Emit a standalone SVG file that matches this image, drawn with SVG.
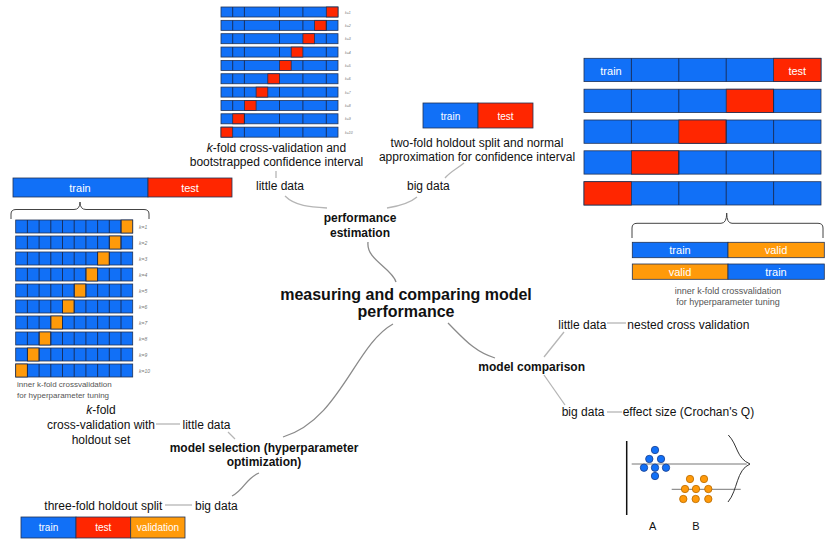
<svg xmlns="http://www.w3.org/2000/svg" width="830" height="548" viewBox="0 0 830 548">
<style>
text{font-family:"Liberation Sans",Arial,sans-serif;fill:#111}
.t12{font-size:12px}
.b12{font-size:12px;font-weight:bold}
.b16{font-size:16px;font-weight:bold}
.w{fill:#fff;text-anchor:middle}
.s11{font-size:11px}
.s10{font-size:10px}
.c{text-anchor:middle}
.note{fill:#555;text-anchor:start}
.kl{fill:#777;font-style:italic}
.bl{fill:#1170f7}
.rd{fill:#ff2600}
.or{fill:#ff9a0a}
.cell{stroke:#223355;stroke-width:0.8}
.div{stroke:#1a2a50;stroke-width:0.9}
.con{fill:none;stroke:#8a8a8a;stroke-width:1.3}
.con2{fill:none;stroke:#b5b5b5;stroke-width:1.3}
.brace{fill:none;stroke:#444;stroke-width:1}
</style>

<g id="connectors">
<path class="con" d="M368,242 C366,260 392,268 396,282"/>
<path class="con" d="M393,324 C355,345 340,420 283,437"/>
<path class="con" d="M448,323 C465,340 475,352 495,358"/>
<path class="con2" d="M285,196 C295,206 310,207 327,208"/>
<path class="con2" d="M387,208 C400,206 410,203 417,197"/>
<path class="con2" d="M276,171 L276,178"/>
<path class="con2" d="M464,163 C458,168 450,172 445,178"/>
<path class="con2" d="M156,424 L180,424"/>
<path class="con2" d="M228,432 L235,439"/>
<path class="con2" d="M165,505 L192,505"/>
<path class="con" d="M232,496 C244,490 246,478 259,473"/>
<path class="con2" d="M544,357 L564,332"/>
<path class="con2" d="M607,323 L626,323"/>
<path class="con2" d="M544,375 L565,405"/>
<path class="con2" d="M607,412 L622,412"/>
</g>

<g id="center">
<text class="b16 c" x="406" y="300">measuring and comparing model</text>
<text class="b16 c" x="406" y="317">performance</text>
</g>

<g id="performance-estimation">
<text class="b12 c" x="360" y="222">performance</text>
<text class="b12 c" x="360" y="237">estimation</text>
</g>

<g id="pe-little">
<text class="t12" x="256" y="190">little data</text>
<text class="t12 c" x="276.5" y="152"><tspan font-style="italic">k</tspan>-fold cross-validation and</text>
<text class="t12 c" x="276.5" y="166">bootstrapped confidence interval</text>
</g>

<g id="pe-big">
<text class="t12" x="407" y="190">big data</text>
<text class="t12 c" x="477" y="146.5">two-fold holdout split and normal</text>
<text class="t12 c" x="477" y="160.5">approximation for confidence interval</text>
</g>

<g id="kfold-grid-top">
<rect class="bl cell" x="221" y="7" width="117" height="10"/>
<rect class="bl cell" x="221" y="20.35" width="117" height="10"/>
<rect class="bl cell" x="221" y="33.7" width="117" height="10"/>
<rect class="bl cell" x="221" y="47.05" width="117" height="10"/>
<rect class="bl cell" x="221" y="60.4" width="117" height="10"/>
<rect class="bl cell" x="221" y="73.75" width="117" height="10"/>
<rect class="bl cell" x="221" y="87.1" width="117" height="10"/>
<rect class="bl cell" x="221" y="100.45" width="117" height="10"/>
<rect class="bl cell" x="221" y="113.8" width="117" height="10"/>
<rect class="bl cell" x="221" y="127.15" width="117" height="10"/>
<rect class="rd cell" x="326.3" y="7" width="11.7" height="10"/>
<rect class="rd cell" x="314.6" y="20.35" width="11.7" height="10"/>
<rect class="rd cell" x="302.9" y="33.7" width="11.7" height="10"/>
<rect class="rd cell" x="291.2" y="47.05" width="11.7" height="10"/>
<rect class="rd cell" x="279.5" y="60.4" width="11.7" height="10"/>
<rect class="rd cell" x="267.8" y="73.75" width="11.7" height="10"/>
<rect class="rd cell" x="256.1" y="87.1" width="11.7" height="10"/>
<rect class="rd cell" x="244.4" y="100.45" width="11.7" height="10"/>
<rect class="rd cell" x="232.7" y="113.8" width="11.7" height="10"/>
<rect class="rd cell" x="221" y="127.15" width="11.7" height="10"/>
<path class="div" d="M232.7,7v10M244.4,7v10M279.5,7v10M302.9,7v10M232.7,20.35v10M244.4,20.35v10M279.5,20.35v10M302.9,20.35v10M326.3,20.35v10M232.7,33.7v10M244.4,33.7v10M279.5,33.7v10M326.3,33.7v10M232.7,47.05v10M244.4,47.05v10M279.5,47.05v10M326.3,47.05v10M232.7,60.4v10M244.4,60.4v10M302.9,60.4v10M326.3,60.4v10M232.7,73.75v10M244.4,73.75v10M302.9,73.75v10M326.3,73.75v10M232.7,87.1v10M244.4,87.1v10M279.5,87.1v10M302.9,87.1v10M326.3,87.1v10M232.7,100.45v10M279.5,100.45v10M302.9,100.45v10M326.3,100.45v10M244.4,113.8v10M279.5,113.8v10M302.9,113.8v10M326.3,113.8v10M244.4,127.15v10M279.5,127.15v10M302.9,127.15v10M326.3,127.15v10"/>
<g font-size="3.5" class="kl">
<text class="kl" x="345" y="13.5">k=1</text>
<text class="kl" x="345" y="26.8">k=2</text>
<text class="kl" x="345" y="40.2">k=3</text>
<text class="kl" x="345" y="53.5">k=4</text>
<text class="kl" x="345" y="66.9">k=5</text>
<text class="kl" x="345" y="80.2">k=6</text>
<text class="kl" x="345" y="93.6">k=7</text>
<text class="kl" x="345" y="106.9">k=8</text>
<text class="kl" x="345" y="120.3">k=9</text>
<text class="kl" x="345" y="133.6">k=10</text>
</g>
</g>

<g id="two-fold-bar">
<rect class="bl cell" x="423" y="103" width="55" height="25"/>
<rect class="rd cell" x="478" y="103" width="55" height="25"/>
<text class="w s10" x="450.5" y="119.5">train</text>
<text class="w s10" x="505.5" y="119.5">test</text>
</g>

<g id="left-holdout">
<rect class="bl cell" x="13" y="178" width="135" height="19"/>
<rect class="rd cell" x="148" y="178" width="84" height="19"/>
<text class="w s11" x="80" y="191.5">train</text>
<text class="w s11" x="190" y="191.5">test</text>
<path class="brace" d="M11,219 L11,214 Q11,209.5 16,209.5 L74,209.5 Q80,209.5 80,202 Q80,209.5 86,209.5 L144,209.5 Q149,209.5 149,214 L149,219"/>
</g>

<g id="left-inner-grid">
<g id="lg-rows">
<rect class="bl cell" x="15.7" y="220" width="117" height="13"/>
<rect class="bl cell" x="15.7" y="236" width="117" height="13"/>
<rect class="bl cell" x="15.7" y="252" width="117" height="13"/>
<rect class="bl cell" x="15.7" y="268" width="117" height="13"/>
<rect class="bl cell" x="15.7" y="284" width="117" height="13"/>
<rect class="bl cell" x="15.7" y="300" width="117" height="13"/>
<rect class="bl cell" x="15.7" y="316" width="117" height="13"/>
<rect class="bl cell" x="15.7" y="332" width="117" height="13"/>
<rect class="bl cell" x="15.7" y="348" width="117" height="13"/>
<rect class="bl cell" x="15.7" y="364" width="117" height="13"/>
</g>
<rect class="or cell" x="121" y="220" width="11.7" height="13"/>
<rect class="or cell" x="109.3" y="236" width="11.7" height="13"/>
<rect class="or cell" x="97.6" y="252" width="11.7" height="13"/>
<rect class="or cell" x="85.9" y="268" width="11.7" height="13"/>
<rect class="or cell" x="74.2" y="284" width="11.7" height="13"/>
<rect class="or cell" x="62.5" y="300" width="11.7" height="13"/>
<rect class="or cell" x="50.8" y="316" width="11.7" height="13"/>
<rect class="or cell" x="39.1" y="332" width="11.7" height="13"/>
<rect class="or cell" x="27.4" y="348" width="11.7" height="13"/>
<rect class="or cell" x="15.7" y="364" width="11.7" height="13"/>
<path class="div" d="M27.4,220V377M39.1,220V377M50.8,220V377M62.5,220V377M74.2,220V377M85.9,220V377M97.6,220V377M109.3,220V377M121,220V377" stroke-dasharray="13 3"/>
<g font-size="5">
<text class="kl" x="139" y="228.5">k=1</text>
<text class="kl" x="139" y="244.5">k=2</text>
<text class="kl" x="139" y="260.5">k=3</text>
<text class="kl" x="139" y="276.5">k=4</text>
<text class="kl" x="139" y="292.5">k=5</text>
<text class="kl" x="139" y="308.5">k=6</text>
<text class="kl" x="139" y="324.5">k=7</text>
<text class="kl" x="139" y="340.5">k=8</text>
<text class="kl" x="139" y="356.5">k=9</text>
<text class="kl" x="139" y="372.5">k=10</text>
</g>
<text class="note" font-size="8" x="17" y="387">inner k-fold crossvalidation</text>
<text class="note" font-size="8" x="17" y="397.5">for hyperparameter tuning</text>
</g>

<g id="right-outer-grid">
<rect class="bl cell" x="584" y="58.3" width="237" height="23.3"/>
<rect class="bl cell" x="584" y="89.2" width="237" height="23.3"/>
<rect class="bl cell" x="584" y="120" width="237" height="23.3"/>
<rect class="bl cell" x="584" y="150.8" width="237" height="23.3"/>
<rect class="bl cell" x="584" y="181.7" width="237" height="23.3"/>
<rect class="rd cell" x="773.6" y="58.3" width="47.4" height="23.3"/>
<rect class="rd cell" x="726.2" y="89.2" width="47.4" height="23.3"/>
<rect class="rd cell" x="678.8" y="120" width="47.4" height="23.3"/>
<rect class="rd cell" x="631.4" y="150.8" width="47.4" height="23.3"/>
<rect class="rd cell" x="584" y="181.7" width="47.4" height="23.3"/>
<path class="div" d="M631.4,58.3V81.6M678.8,58.3V81.6M726.2,58.3V81.6M631.4,89.2V112.5M678.8,89.2V112.5M773.6,89.2V112.5M631.4,120V143.3M726.2,120V143.3M773.6,120V143.3M678.8,150.8V174.1M726.2,150.8V174.1M773.6,150.8V174.1M678.8,181.7V205M726.2,181.7V205M773.6,181.7V205"/>
<text class="w s11" x="611" y="74.5">train</text>
<text class="w s11" x="797.3" y="74.5">test</text>
<path class="brace" d="M632,238 L632,228 Q632,223.3 637,223.3 L721,223.3 Q726.7,223.3 726.7,213 Q726.7,223.3 732,223.3 L818,223.3 Q823,223.3 823,228 L823,238"/>
</g>

<g id="right-inner">
<rect class="bl cell" x="632.3" y="242.3" width="95.7" height="15.4"/>
<rect class="or cell" x="728" y="242.3" width="96.3" height="15.4"/>
<rect class="or cell" x="632.3" y="264" width="95.7" height="15.3"/>
<rect class="bl cell" x="728" y="264" width="96.3" height="15.3"/>
<text class="w s11" x="680" y="254">train</text>
<text class="w s11" x="776" y="254">valid</text>
<text class="w s11" x="680" y="275.5">valid</text>
<text class="w s11" x="776" y="275.5">train</text>
<text class="note" font-size="9" x="728" y="293.5" text-anchor="middle" style="text-anchor:middle">inner k-fold crossvalidation</text>
<text class="note" font-size="9" x="728" y="304.5" style="text-anchor:middle">for hyperparameter tuning</text>
</g>

<g id="model-selection">
<text class="b12 c" x="264" y="452">model selection (hyperparameter</text>
<text class="b12 c" x="264" y="466">optimization)</text>
</g>

<g id="ms-little">
<text class="t12" x="182.5" y="428.5">little data</text>
<text class="t12 c" x="101" y="414"><tspan font-style="italic">k</tspan>-fold</text>
<text class="t12 c" x="101" y="429">cross-validation with</text>
<text class="t12 c" x="101" y="444">holdout set</text>
</g>

<g id="ms-big">
<text class="t12" x="195" y="510">big data</text>
<text class="t12" x="44.3" y="510">three-fold holdout split</text>
<rect class="bl cell" x="21" y="517" width="55" height="21"/>
<rect class="rd cell" x="76" y="517" width="54.7" height="21"/>
<rect class="or cell" x="130.7" y="517" width="54.3" height="21"/>
<text class="w s10" x="48.5" y="531">train</text>
<text class="w s10" x="103.3" y="531">test</text>
<text class="w s10" x="158" y="531">validation</text>
</g>

<g id="model-comparison">
<text class="b12" x="478.3" y="371">model comparison</text>
</g>

<g id="mc-little">
<text class="t12" x="558.3" y="329">little data</text>
<text class="t12" x="627.3" y="329">nested cross validation</text>
</g>

<g id="mc-big">
<text class="t12" x="561.7" y="416">big data</text>
<text class="t12" x="622.7" y="416">effect size (Crochan's Q)</text>
</g>

<g id="effect-size-plot">
<path d="M626.7,441 L626.7,515" stroke="#111" stroke-width="1.5"/>
<path d="M631.7,464 L746.7,464" stroke="#777" stroke-width="1"/>
<path d="M671.7,489.3 L740.7,489.3" stroke="#777" stroke-width="1"/>
<path d="M728.3,435 C738,445 736,458 750,464 C736,470 738,490 728,502" fill="none" stroke="#333" stroke-width="1"/>
<g fill="#1170f7" stroke="#1a3d8a" stroke-width="0.8">
<circle cx="655" cy="450" r="3.7"/>
<circle cx="649.3" cy="459" r="3.7"/>
<circle cx="661" cy="459" r="3.7"/>
<circle cx="644" cy="467.7" r="3.7"/>
<circle cx="655" cy="467.7" r="3.7"/>
<circle cx="666" cy="467.7" r="3.7"/>
<circle cx="655" cy="476" r="3.7"/>
</g>
<g fill="#ff9a0a" stroke="#b86a00" stroke-width="0.8">
<circle cx="690" cy="479" r="3.7"/>
<circle cx="704" cy="479" r="3.7"/>
<circle cx="685" cy="489" r="3.7"/>
<circle cx="696" cy="489" r="3.7"/>
<circle cx="708.3" cy="489" r="3.7"/>
<circle cx="683.3" cy="499" r="3.7"/>
<circle cx="695.7" cy="499" r="3.7"/>
<circle cx="708.3" cy="499" r="3.7"/>
</g>
<text class="c" font-size="11" x="652.7" y="530">A</text>
<text class="c" font-size="11" x="696" y="530">B</text>
</g>
</svg>
